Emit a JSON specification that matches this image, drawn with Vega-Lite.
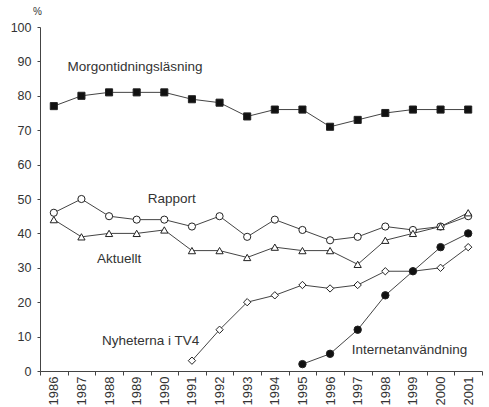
{
  "$schema": "https://vega.github.io/schema/vega-lite/v6.json",
  "width": 442,
  "height": 344,
  "autosize": {"type": "none"},
  "padding": {"left": 40, "top": 27, "right": 7, "bottom": 36},
  "background": "white",
  "config": {
    "view": {"stroke": null},
    "font": "Liberation Sans",
    "text": {"font": "Liberation Sans"}
  },
  "data": {
    "values": [
      {"year": "1986", "series": "Morgontidningsläsning", "value": 77},
      {"year": "1987", "series": "Morgontidningsläsning", "value": 80},
      {"year": "1988", "series": "Morgontidningsläsning", "value": 81},
      {"year": "1989", "series": "Morgontidningsläsning", "value": 81},
      {"year": "1990", "series": "Morgontidningsläsning", "value": 81},
      {"year": "1991", "series": "Morgontidningsläsning", "value": 79},
      {"year": "1992", "series": "Morgontidningsläsning", "value": 78},
      {"year": "1993", "series": "Morgontidningsläsning", "value": 74},
      {"year": "1994", "series": "Morgontidningsläsning", "value": 76},
      {"year": "1995", "series": "Morgontidningsläsning", "value": 76},
      {"year": "1996", "series": "Morgontidningsläsning", "value": 71},
      {"year": "1997", "series": "Morgontidningsläsning", "value": 73},
      {"year": "1998", "series": "Morgontidningsläsning", "value": 75},
      {"year": "1999", "series": "Morgontidningsläsning", "value": 76},
      {"year": "2000", "series": "Morgontidningsläsning", "value": 76},
      {"year": "2001", "series": "Morgontidningsläsning", "value": 76},
      {"year": "1986", "series": "Rapport", "value": 46},
      {"year": "1987", "series": "Rapport", "value": 50},
      {"year": "1988", "series": "Rapport", "value": 45},
      {"year": "1989", "series": "Rapport", "value": 44},
      {"year": "1990", "series": "Rapport", "value": 44},
      {"year": "1991", "series": "Rapport", "value": 42},
      {"year": "1992", "series": "Rapport", "value": 45},
      {"year": "1993", "series": "Rapport", "value": 39},
      {"year": "1994", "series": "Rapport", "value": 44},
      {"year": "1995", "series": "Rapport", "value": 41},
      {"year": "1996", "series": "Rapport", "value": 38},
      {"year": "1997", "series": "Rapport", "value": 39},
      {"year": "1998", "series": "Rapport", "value": 42},
      {"year": "1999", "series": "Rapport", "value": 41},
      {"year": "2000", "series": "Rapport", "value": 42},
      {"year": "2001", "series": "Rapport", "value": 45},
      {"year": "1986", "series": "Aktuellt", "value": 44},
      {"year": "1987", "series": "Aktuellt", "value": 39},
      {"year": "1988", "series": "Aktuellt", "value": 40},
      {"year": "1989", "series": "Aktuellt", "value": 40},
      {"year": "1990", "series": "Aktuellt", "value": 41},
      {"year": "1991", "series": "Aktuellt", "value": 35},
      {"year": "1992", "series": "Aktuellt", "value": 35},
      {"year": "1993", "series": "Aktuellt", "value": 33},
      {"year": "1994", "series": "Aktuellt", "value": 36},
      {"year": "1995", "series": "Aktuellt", "value": 35},
      {"year": "1996", "series": "Aktuellt", "value": 35},
      {"year": "1997", "series": "Aktuellt", "value": 31},
      {"year": "1998", "series": "Aktuellt", "value": 38},
      {"year": "1999", "series": "Aktuellt", "value": 40},
      {"year": "2000", "series": "Aktuellt", "value": 42},
      {"year": "2001", "series": "Aktuellt", "value": 46},
      {"year": "1991", "series": "Nyheterna i TV4", "value": 3},
      {"year": "1992", "series": "Nyheterna i TV4", "value": 12},
      {"year": "1993", "series": "Nyheterna i TV4", "value": 20},
      {"year": "1994", "series": "Nyheterna i TV4", "value": 22},
      {"year": "1995", "series": "Nyheterna i TV4", "value": 25},
      {"year": "1996", "series": "Nyheterna i TV4", "value": 24},
      {"year": "1997", "series": "Nyheterna i TV4", "value": 25},
      {"year": "1998", "series": "Nyheterna i TV4", "value": 29},
      {"year": "1999", "series": "Nyheterna i TV4", "value": 29},
      {"year": "2000", "series": "Nyheterna i TV4", "value": 30},
      {"year": "2001", "series": "Nyheterna i TV4", "value": 36},
      {"year": "1995", "series": "Internetanvändning", "value": 2},
      {"year": "1996", "series": "Internetanvändning", "value": 5},
      {"year": "1997", "series": "Internetanvändning", "value": 12},
      {"year": "1998", "series": "Internetanvändning", "value": 22},
      {"year": "1999", "series": "Internetanvändning", "value": 29},
      {"year": "2000", "series": "Internetanvändning", "value": 36},
      {"year": "2001", "series": "Internetanvändning", "value": 40}
    ]
  },
  "encoding": {
    "x": {
      "field": "year",
      "type": "ordinal",
      "scale": {"domain": ["1986","1987","1988","1989","1990","1991","1992","1993","1994","1995","1996","1997","1998","1999","2000","2001"], "paddingInner": 0, "paddingOuter": 0},
      "axis": {
        "title": null,
        "labelAngle": -90,
        "labelFontSize": 13,
        "labelColor": "#333",
        "tickBand": "extent",
        "tickSize": 4,
        "labelPadding": 1,
        "domainColor": "#444",
        "tickColor": "#444",
        "grid": false
      }
    },
    "y": {
      "field": "value",
      "type": "quantitative",
      "scale": {"domain": [0, 100], "nice": false},
      "axis": {
        "title": "%",
        "titleAngle": 0,
        "titleX": -3,
        "titleY": -16,
        "titleAlign": "center",
        "titleBaseline": "middle",
        "titleFontSize": 10,
        "titleFontWeight": "normal",
        "titleColor": "#333",
        "values": [0,10,20,30,40,50,60,70,80,90,100],
        "labelFontSize": 12.5,
        "labelColor": "#333",
        "tickSize": 3,
        "labelPadding": 6,
        "domainColor": "#444",
        "tickColor": "#444",
        "grid": false
      }
    }
  },
  "layer": [
    {
      "mark": {"type": "line", "color": "#444", "strokeWidth": 1},
      "encoding": {"detail": {"field": "series"}}
    },
    {
      "mark": {"type": "point", "filled": false, "stroke": "#222", "strokeWidth": 1, "opacity": 1},
      "encoding": {
        "shape": {"field": "series", "legend": null, "scale": {"domain": ["Morgontidningsläsning","Rapport","Aktuellt","Nyheterna i TV4","Internetanvändning"], "range": ["square","circle","triangle-up","diamond","circle"]}},
        "fill": {"field": "series", "legend": null, "scale": {"domain": ["Morgontidningsläsning","Rapport","Aktuellt","Nyheterna i TV4","Internetanvändning"], "range": ["#111","white","white","white","#111"]}},
        "size": {"field": "series", "legend": null, "scale": {"domain": ["Morgontidningsläsning","Rapport","Aktuellt","Nyheterna i TV4","Internetanvändning"], "range": [50,55,60,40,42]}}
      }
    },
    {
      "data": {"values": [{"year": "1987", "value": 88.4, "label": "Morgontidningsläsning"}]},
      "mark": {"type": "text", "align": "left", "baseline": "middle", "dx": -14, "fontSize": 13.5, "color": "#333"},
      "encoding": {"text": {"field": "label"}}
    },
    {
      "data": {"values": [{"year": "1989", "value": 50, "label": "Rapport"}]},
      "mark": {"type": "text", "align": "left", "baseline": "middle", "dx": 11, "fontSize": 13.5, "color": "#333"},
      "encoding": {"text": {"field": "label"}}
    },
    {
      "data": {"values": [{"year": "1988", "value": 32.6, "label": "Aktuellt"}]},
      "mark": {"type": "text", "align": "left", "baseline": "middle", "dx": -12, "fontSize": 13.5, "color": "#333"},
      "encoding": {"text": {"field": "label"}}
    },
    {
      "data": {"values": [{"year": "1988", "value": 8.7, "label": "Nyheterna i TV4"}]},
      "mark": {"type": "text", "align": "left", "baseline": "middle", "dx": -7, "fontSize": 13.5, "color": "#333"},
      "encoding": {"text": {"field": "label"}}
    },
    {
      "data": {"values": [{"year": "1997", "value": 6.1, "label": "Internetanvändning"}]},
      "mark": {"type": "text", "align": "left", "baseline": "middle", "dx": -6, "fontSize": 13.5, "color": "#333"},
      "encoding": {"text": {"field": "label"}}
    }
  ]
}
